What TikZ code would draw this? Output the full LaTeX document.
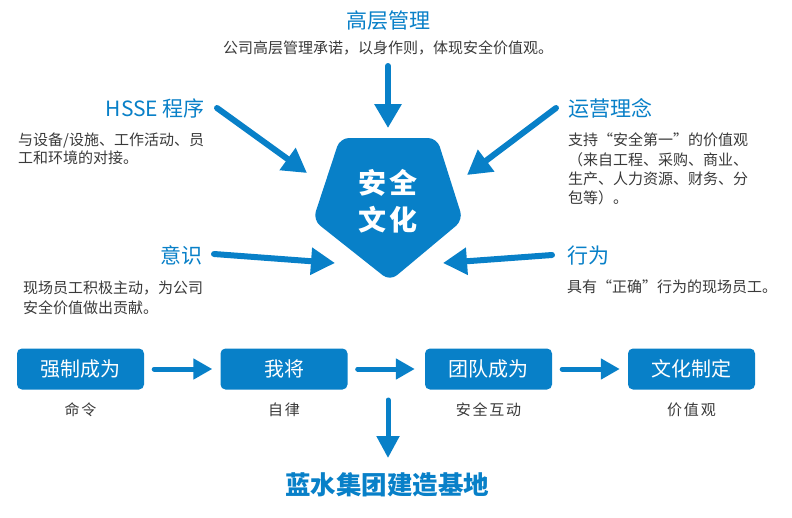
\documentclass[tikz,border=0pt]{standalone}
\usepackage{fontspec}
\setmainfont{Noto Sans CJK SC}
\usetikzlibrary{arrows.meta}
\definecolor{cblue}{HTML}{0880C8}
\definecolor{ctext}{HTML}{3A3A3A}
\begin{document}
\begin{tikzpicture}[x=1pt,y=-1pt,
  title/.style={text=cblue, font=\fontsize{21}{24}\selectfont, inner sep=0},
  desc/.style={text=ctext, font=\fontsize{15}{19}\selectfont, inner sep=0},
  bigarrow/.style={draw=cblue, line width=6pt, line cap=round, -{Triangle[length=24pt,width=26pt]}},
  smallarrow/.style={draw=cblue, line width=5pt, line cap=round, -{Triangle[length=19pt,width=20pt]}},
  stagebox/.style={fill=cblue, rounded corners=5pt, minimum width=127pt, minimum height=41pt, text=white, font=\fontsize{20}{24}\selectfont, inner sep=0},
  stagelabel/.style={text=ctext, font=\fontsize{15}{18}\selectfont\addfontfeature{LetterSpace=12}, inner sep=0}
]
\useasboundingbox[fill=white] (0,0) rectangle (792,517);

% central pentagon
\fill[cblue, rounded corners=9pt] (340,138) -- (437,138) -- (463,220) -- (390,281) -- (313,220) -- cycle;
\node[text=white, font=\fontsize{28}{32}\bfseries, inner sep=0] (core1) at (388,183) {安\hspace{4pt}全};
\node[text=white, font=\fontsize{28}{32}\bfseries, inner sep=0] (core2) at (388,220) {文\hspace{4pt}化};

% top
\node[title, anchor=base] (top) at (388,28) {高层管理};
\node[desc, anchor=base] (topd) at (388,53.7) {公司高层管理承诺，以身作则，体现安全价值观。};
% HSSE
\node[title, anchor=base east] (hsse) at (205,116) {HSSE 程序};
\node[desc, anchor=base west] (hssed1) at (18,145.7) {与设备/设施、工作活动、员};
\node[desc, anchor=base west] (hssed2) at (18,163.7) {工和环境的对接。};
% 运营理念
\node[title, anchor=base west] (ops) at (568,116) {运营理念};
\node[desc, anchor=base west] (opsd1) at (568,145.7) {支持“安全第一”的价值观};
\node[desc, anchor=base west] (opsd2) at (568,165) {（来自工程、采购、商业、};
\node[desc, anchor=base west] (opsd3) at (568,184.3) {生产、人力资源、财务、分};
\node[desc, anchor=base west] (opsd4) at (568,203.6) {包等）。};
% 意识
\node[title, anchor=base east] (aware) at (203,263) {意识};
\node[desc, anchor=base west] (awared1) at (23,293.7) {现场员工积极主动，为公司};
\node[desc, anchor=base west] (awared2) at (23,313.7) {安全价值做出贡献。};
% 行为
\node[title, anchor=base west] (behav) at (567,263) {行为};
\node[desc, anchor=base west] (behavd) at (567,292.7) {具有“正确”行为的现场员工。};

% arrow endpoints
\coordinate (a1s) at (388,66);  \coordinate (a1e) at (388,128);
\coordinate (a2s) at (217,108); \coordinate (a2e) at (307,173);
\coordinate (a3s) at (556,108); \coordinate (a3e) at (467,175);
\coordinate (a4s) at (214,254); \coordinate (a4e) at (335,263);
\coordinate (a5s) at (552,255); \coordinate (a5e) at (443,263);
\draw[bigarrow] (a1s) -- (a1e);
\draw[bigarrow] (a2s) -- (a2e);
\draw[bigarrow] (a3s) -- (a3e);
\draw[bigarrow] (a4s) -- (a4e);
\draw[bigarrow] (a5s) -- (a5e);

% stages
\node[stagebox] (s1) at (80.5,369) {强制成为};
\node[stagebox] (s2) at (284,369) {我将};
\node[stagebox] (s3) at (488.5,369) {团队成为};
\node[stagebox] (s4) at (691.5,369) {文化制定};
\node[stagelabel] (l1) at (80.5,410) {命令};
\node[stagelabel] (l2) at (284,410) {自律};
\node[stagelabel] (l3) at (488.5,410) {安全互动};
\node[stagelabel] (l4) at (691.5,410) {价值观};
\draw[smallarrow] ([xshift=10pt]s1.east) -- ([xshift=-8pt]s2.west);
\draw[smallarrow] ([xshift=10pt]s2.east) -- ([xshift=-10pt]s3.west);
\draw[smallarrow] ([xshift=10pt]s3.east) -- ([xshift=-8pt]s4.west);

% bottom
\node[text=cblue, font=\fontsize{25.5}{30}\bfseries, inner sep=0] (base) at (387,485) {蓝水集团建造基地};
\coordinate (a6s) at (388,400);
\coordinate (a6e) at (388,458);
\draw[bigarrow, line width=5pt, -{Triangle[length=22pt,width=22pt]}] (a6s) -- (a6e);
\end{tikzpicture}
\end{document}
